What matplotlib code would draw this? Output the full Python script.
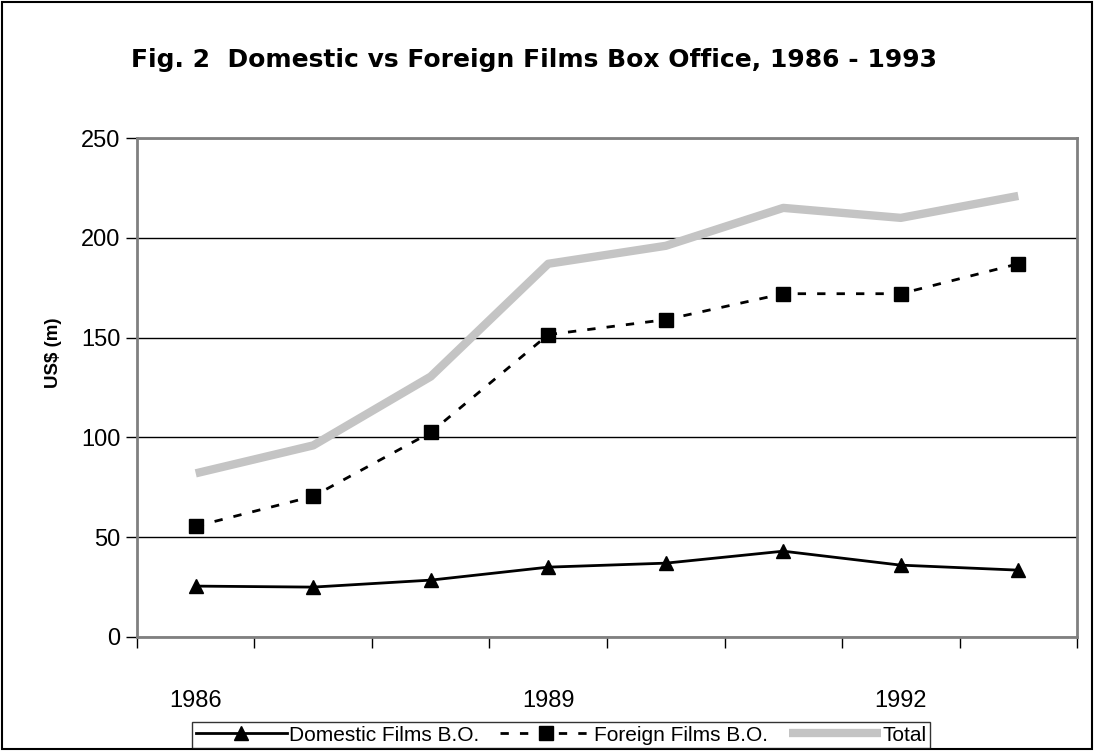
import matplotlib
matplotlib.use('Agg')
import matplotlib.pyplot as plt
from matplotlib.patches import Rectangle

# Data
years = ['1986', '1987', '1988', '1989', '1990', '1991', '1992', '1993']
domestic = [25.5, 25, 28.5, 35, 37, 43, 36, 33.5]
foreign = [55.5, 70.5, 102.5, 151.5, 159, 172, 172, 187]
total = [82, 96, 130.5, 187, 196, 215, 210, 221]

plt.rcParams['font.family'] = ['Liberation Sans', 'DejaVu Sans']

fig = plt.figure(figsize=(10.94, 7.51), dpi=100)
ax = fig.add_axes([0.1252, 0.1518, 0.8593, 0.6644])

x = list(range(len(years)))

# Total drawn first, thick grey line
ax.plot(x, total, color='#c4c4c4', lw=6, solid_capstyle='butt',
        label='Total', zorder=2)
ax.plot(x, domestic, color='black', lw=2, marker='^', markersize=10,
        label='Domestic Films B.O.', zorder=3)
ax.plot(x, foreign, color='black', lw=2, ls=(0, (3, 4)), marker='s',
        markersize=10, label='Foreign Films B.O.', zorder=3)

ax.set_xlim(-0.5, len(years) - 0.5)
ax.set_ylim(0, 250)
ax.set_yticks([0, 50, 100, 150, 200, 250])
ax.yaxis.grid(True, color='black', lw=1)
ax.set_axisbelow(True)

# category boundaries as ticks, labels every 3 years
ax.set_xticks([i - 0.5 for i in range(len(years) + 1)])
ax.set_xticklabels([])
ax.set_xticks([0, 3, 6], minor=True)
ax.set_xticklabels([years[0], years[3], years[6]], minor=True)
ax.tick_params(axis='x', which='major', length=8, width=1, color='black')
ax.tick_params(axis='x', which='minor', length=0, pad=38, labelsize=17)
ax.tick_params(axis='y', length=8, width=1, color='black', labelsize=17, pad=4)

for sp in ax.spines.values():
    sp.set_color('#808080')
    sp.set_linewidth(2)

ax.set_ylabel('US$ (m)', fontsize=13.5, fontweight='bold')
ax.yaxis.set_label_coords(-0.08, 0.57)

fig.text(0.488, 0.92, 'Fig. 2  Domestic vs Foreign Films Box Office, 1986 - 1993',
         ha='center', va='center', fontsize=18, fontweight='bold',
         family='DejaVu Sans')

h, l = ax.get_legend_handles_labels()
order = [1, 2, 0]
leg = fig.legend([h[i] for i in order], [l[i] for i in order], loc='center',
                 bbox_to_anchor=(0.513, 0.0213), ncol=3, fontsize=15,
                 frameon=True, fancybox=False, edgecolor='black',
                 handlelength=4.4, columnspacing=1.0, handletextpad=0.1,
                 borderpad=0.15, borderaxespad=0)
leg.get_frame().set_linewidth(1)

fig.patches.append(Rectangle((0.002, 0.002), 0.996, 0.996, transform=fig.transFigure,
                             fill=False, edgecolor='black', lw=1.5))

fig.savefig('out.png', dpi=100)
